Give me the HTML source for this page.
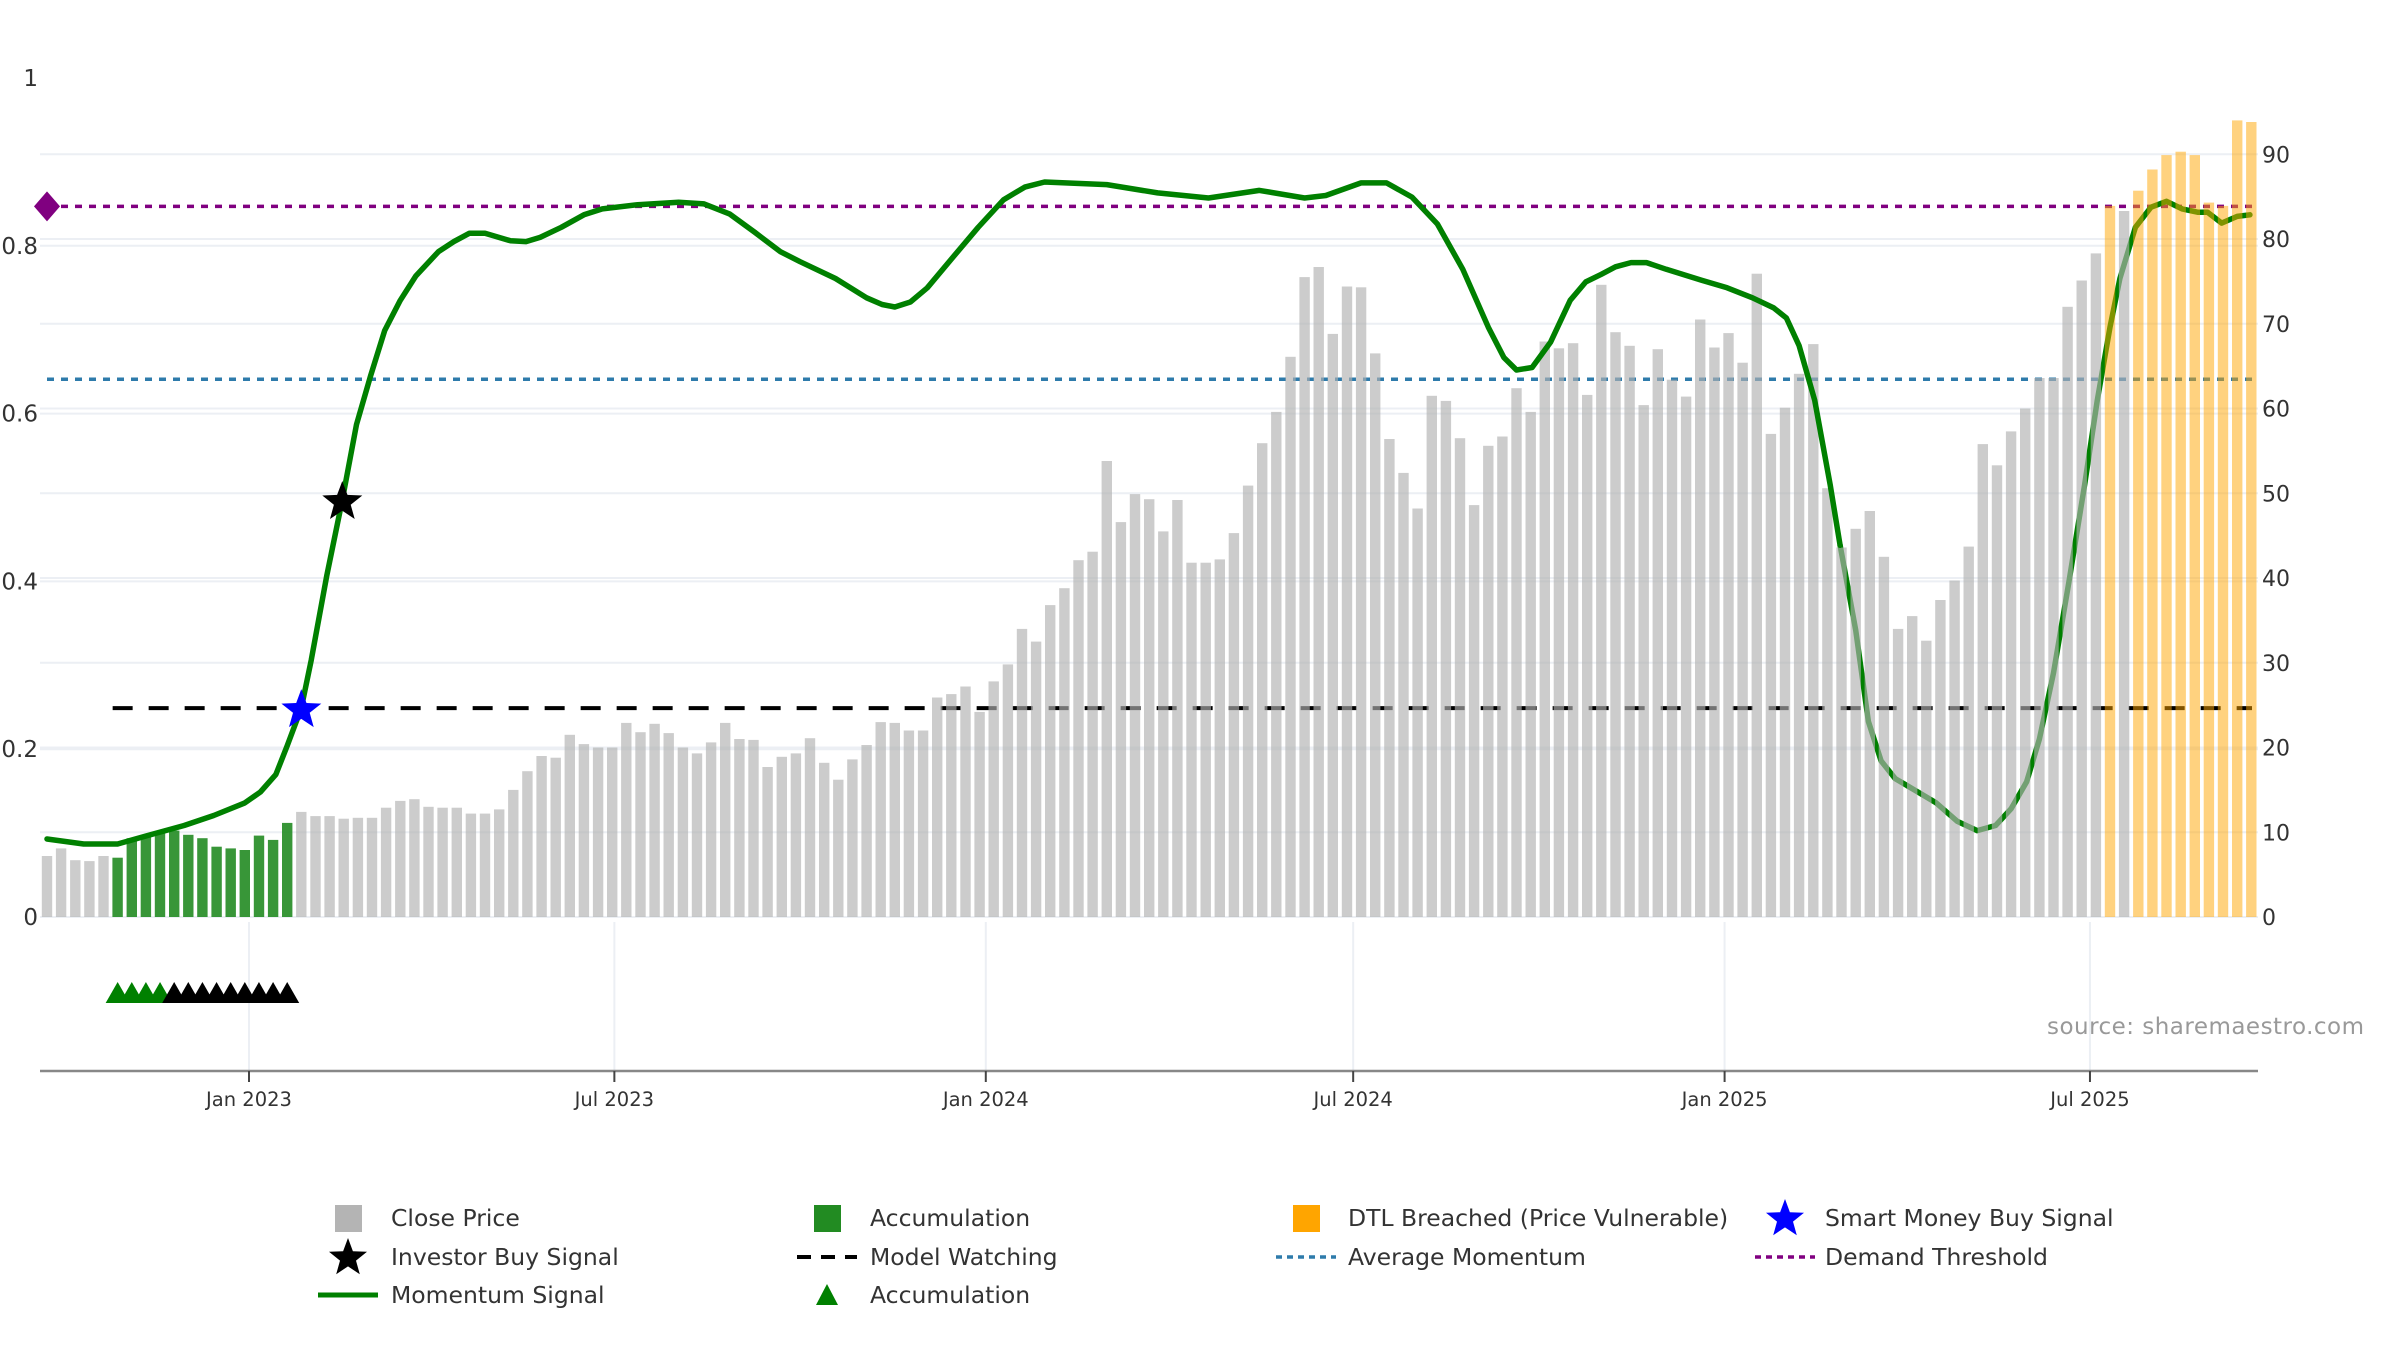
<!DOCTYPE html>
<html><head><meta charset="utf-8"><style>
html,body{margin:0;padding:0;background:#fff;}
svg{display:block;font-family:"DejaVu Sans","Liberation Sans",sans-serif;}
</style></head><body>
<svg id="chart" width="2400" height="1350" viewBox="0 0 2400 1350" xmlns="http://www.w3.org/2000/svg">
<g id="grid"></g>
<g id="hlines"></g>
<g id="lineLate"></g>
<g id="bars"></g>
<g id="lineEarly"></g>
<g id="marks"></g>
<g id="axes"></g>
<text x="2047" y="1034" font-size="23" fill="#999" textLength="317">source: sharemaestro.com</text>
<g id="legend"></g>
</svg>
<script>
const closePrice=[7.2,8.1,6.7,6.6,7.2,7.0,9.3,9.5,9.9,10.2,9.7,9.3,8.3,8.1,7.9,9.6,9.1,11.1,12.4,11.9,11.9,11.6,11.7,11.7,12.9,13.7,13.9,13.0,12.9,12.9,12.2,12.2,12.7,15.0,17.2,19.0,18.8,21.5,20.4,20.0,20.0,22.9,21.8,22.8,21.7,20.0,19.3,20.6,22.9,21.0,20.9,17.7,18.9,19.3,21.1,18.2,16.2,18.6,20.3,23.0,22.9,22.0,22.0,25.9,26.3,27.2,24.2,27.8,29.8,34.0,32.5,36.8,38.8,42.1,43.1,53.8,46.6,49.9,49.3,45.5,49.2,41.8,41.8,42.2,45.3,50.9,55.9,59.6,66.1,75.5,76.7,68.8,74.4,74.3,66.5,56.4,52.4,48.2,61.5,60.9,56.5,48.6,55.6,56.7,62.4,59.6,67.9,67.1,67.7,61.6,74.6,69.0,67.4,60.4,67.0,63.4,61.4,70.5,67.2,68.9,65.4,75.9,57.0,60.1,64.1,67.6,50.6,43.6,45.8,47.9,42.5,34.0,35.5,32.6,37.4,39.7,43.7,55.8,53.3,57.3,60.0,63.6,63.6,72.0,75.1,78.3,83.9,83.3,85.7,88.2,89.9,90.3,89.9,84.3,83.9,94.0,93.8];
const accumulationIdx=[5,6,7,8,9,10,11,12,13,14,15,16,17];
const dtlBreachedIdx=[146,148,149,150,151,152,153,154,155,156];
const momIdx=[0,2.6,5.0,7.1,9.7,11.8,14.0,15.1,16.2,17.0,18.0,18.7,19.8,20.9,21.9,22.9,23.9,25.0,26.1,27.7,28.8,29.9,31.0,32.8,33.9,34.9,36.4,38.0,39.3,41.8,44.7,46.5,48.3,50.1,51.9,53.3,55.8,58.0,59.1,60.0,61.1,62.3,64.1,65.9,67.7,69.2,70.6,75.0,78.6,82.2,85.8,89.0,90.5,93.0,94.8,96.6,98.4,100.2,102.0,103.1,104.0,105.1,106.4,107.8,108.9,110.0,111.0,112.1,113.2,114.6,117.1,118.9,120.7,122.2,123.1,124.0,125.1,126.2,126.9,128.0,128.9,129.8,130.8,132.3,133.7,135.2,136.6,137.9,139.0,140.1,141.0,142.0,143.1,144.2,145.1,146.0,146.7,147.8,148.9,150.0,151.1,152.2,152.9,153.9,155.0,155.9];
const momVal=[0.093,0.087,0.087,0.097,0.109,0.121,0.136,0.149,0.170,0.204,0.249,0.306,0.407,0.497,0.587,0.645,0.699,0.735,0.764,0.793,0.805,0.815,0.815,0.806,0.805,0.810,0.822,0.837,0.844,0.849,0.852,0.850,0.838,0.816,0.793,0.781,0.761,0.738,0.730,0.727,0.733,0.750,0.786,0.822,0.855,0.870,0.876,0.873,0.863,0.857,0.866,0.857,0.860,0.875,0.875,0.858,0.826,0.772,0.703,0.667,0.652,0.655,0.685,0.735,0.757,0.766,0.775,0.780,0.780,0.772,0.759,0.750,0.738,0.726,0.714,0.681,0.616,0.515,0.443,0.342,0.233,0.186,0.165,0.150,0.136,0.114,0.103,0.109,0.129,0.161,0.212,0.291,0.400,0.515,0.616,0.703,0.761,0.822,0.846,0.853,0.844,0.840,0.840,0.827,0.835,0.837];
const accTriIdx=[5,6,7,8];
const watchTriIdx=[9,10,11,12,13,14,15,16,17];
const smartMoneyIdx=[18];
const smartMoneyVal=[0.249];
const investorIdx=[20.9];
const investorVal=[0.497];
const demandThreshold=[0.847];
const avgMomentum=[0.641];
const modelWatching=[0.249];
const leftTicks=[0,0.2,0.4,0.6,0.8,1];
const leftTickLabels=["0","0.2","0.4","0.6","0.8","1"];
const rightTicks=[0,10,20,30,40,50,60,70,80,90];
const xTickDays=[0,181,365,547,731,912];
const xTickLabels=["Jan 2023","Jul 2023","Jan 2024","Jul 2024","Jan 2025","Jul 2025"];

const NS="http://www.w3.org/2000/svg";
const X0=40,X1=2258;
function xDay(d){return 249+d*2.0186;}
function xIdx(i){return xDay(-100.07+7*i);}
function yL(v){return 917-839*v;}
function yR(p){return 917-8.475*p;}
function mk(tag,parent,attrs){const e=document.createElementNS(NS,tag);for(const k in attrs)e.setAttribute(k,attrs[k]);parent.appendChild(e);return e;}
function starPts(cx,cy,R){const r=R*0.42;let p=[];for(let k=0;k<10;k++){const a=-Math.PI/2+k*Math.PI/5;const rr=k%2?r:R;p.push((cx+rr*Math.cos(a)).toFixed(1)+","+(cy+rr*Math.sin(a)).toFixed(1));}return p.join(" ");}

const grid=document.getElementById('grid');
leftTicks.forEach(v=>{if(v>=1)return;const l=mk('line',grid,{x1:X0,x2:X1,y1:yL(v),y2:yL(v),stroke:'#eceff4','stroke-width':2});

});
rightTicks.forEach(v=>{const l=mk('line',grid,{x1:X0,x2:X1,y1:yR(v),y2:yR(v),stroke:'#eceff4','stroke-width':2});

});
xTickDays.forEach(d=>{const l=mk('line',grid,{x1:xDay(d),x2:xDay(d),y1:922,y2:1070,stroke:'#eceff4','stroke-width':2});

});

const hl=document.getElementById('hlines');
const mw=mk('line',hl,{x1:xIdx(5)-5,x2:X1-6,y1:yL(modelWatching[0]),y2:yL(modelWatching[0]),stroke:'#000','stroke-width':4,'stroke-dasharray':'20 16'});


const am=mk('line',hl,{x1:X0+7,x2:X1-6,y1:yL(avgMomentum[0]),y2:yL(avgMomentum[0]),stroke:'#2e7bab','stroke-width':3.5,'stroke-dasharray':'7 7'});


const dt=mk('line',hl,{x1:X0+7,x2:X1-6,y1:yL(demandThreshold[0]),y2:yL(demandThreshold[0]),stroke:'#800080','stroke-width':3.5,'stroke-dasharray':'7 7'});



function momPath(filterFn){let p=[];for(let k=0;k<momIdx.length;k++){if(filterFn(momIdx[k]))p.push(xIdx(momIdx[k]).toFixed(1)+","+yL(momVal[k]).toFixed(1));}return p.join(" ");}
const late=mk('polyline',document.getElementById('lineLate'),{points:momPath(i=>i>=126.9),fill:'none',stroke:'#008000','stroke-width':5.5,'stroke-linejoin':'round','stroke-linecap':'round'});



const bars=document.getElementById('bars');
closePrice.forEach((p,i)=>{let fill='#b0b0b0',op=0.65,name='close-price-bar';
if(accumulationIdx.includes(i)){fill='#228b22';op=0.9;name='accumulation-bar';}
if(dtlBreachedIdx.includes(i)){fill='#ffa500';op=0.5;name='dtl-breached-bar';}
const r=mk('rect',bars,{x:(xIdx(i)-5.2).toFixed(1),y:yR(p).toFixed(1),width:10.4,height:(yR(0)-yR(p)).toFixed(1),fill:fill,'fill-opacity':op});

});

const early=mk('polyline',document.getElementById('lineEarly'),{points:momPath(i=>i<=126.9),fill:'none',stroke:'#008000','stroke-width':5.5,'stroke-linejoin':'round','stroke-linecap':'round'});



const marks=document.getElementById('marks');
const dy=yL(demandThreshold[0]);
const dia=mk('polygon',marks,{points:`${X0+7},${dy-15} ${X0+20},${dy} ${X0+7},${dy+15} ${X0-6},${dy}`,fill:'#800080'});


smartMoneyIdx.forEach((i,k)=>{const s=mk('polygon',marks,{points:starPts(xIdx(i),yL(smartMoneyVal[k])+2,21),fill:'#0000ff'});

});
investorIdx.forEach((i,k)=>{const s=mk('polygon',marks,{points:starPts(xIdx(i),yL(investorVal[k])+2,21),fill:'#000'});

});
function tri(i,color,name){const cx=xIdx(i);const t=mk('polygon',marks,{points:`${cx-12},1003 ${cx+12},1003 ${cx},982`,fill:color});

}
accTriIdx.forEach(i=>tri(i,'#008000','accumulation-triangle'));
watchTriIdx.forEach(i=>tri(i,'#000','watch-triangle'));

const axes=document.getElementById('axes');
const ax=mk('line',axes,{x1:X0,x2:X1,y1:1071,y2:1071,stroke:'#888','stroke-width':2.5});


xTickDays.forEach((d,k)=>{const t=mk('line',axes,{x1:xDay(d),x2:xDay(d),y1:1071,y2:1082,stroke:'#444','stroke-width':2});


const tx=mk('text',axes,{x:xDay(d),y:1106,'font-size':19.5,fill:'#333','text-anchor':'middle'});tx.textContent=xTickLabels[k];

});
leftTicks.forEach((v,k)=>{const tx=mk('text',axes,{x:38,y:yL(v)+8,'font-size':23,fill:'#333','text-anchor':'end'});tx.textContent=leftTickLabels[k];

});
rightTicks.forEach(v=>{const tx=mk('text',axes,{x:2262,y:yR(v)+8,'font-size':22,fill:'#333'});tx.textContent=String(v);

});

const lg=document.getElementById('legend');
const rowY=[1218,1257,1295];
const colS=[348,827,1306,1785];
const colT=[391,870,1348,1825];
const items=[
 [0,0,'Close Price','sq','#b4b4b4'],[1,0,'Accumulation','sq','#228b22'],[2,0,'DTL Breached (Price Vulnerable)','sq','#ffa500'],[3,0,'Smart Money Buy Signal','star','#0000ff'],
 [0,1,'Investor Buy Signal','star','#000'],[1,1,'Model Watching','dash','#000'],[2,1,'Average Momentum','dot','#2e7bab'],[3,1,'Demand Threshold','dot','#800080'],
 [0,2,'Momentum Signal','line','#008000'],[1,2,'Accumulation','tri','#008000']];
items.forEach(it=>{const [c,r,label,type,color]=it;const cx=colS[c],cy=rowY[r];
const g=mk('g',lg,{});


if(type==='sq')mk('rect',g,{x:cx-13,y:cy-13,width:27,height:27,fill:color});
if(type==='star')mk('polygon',g,{points:starPts(cx,cy+1,20),fill:color});
if(type==='dash')mk('line',g,{x1:cx-30,x2:cx+30,y1:cy,y2:cy,stroke:color,'stroke-width':4,'stroke-dasharray':'14 10'});
if(type==='dot')mk('line',g,{x1:cx-30,x2:cx+30,y1:cy,y2:cy,stroke:color,'stroke-width':3.5,'stroke-dasharray':'6 5'});
if(type==='line')mk('line',g,{x1:cx-30,x2:cx+30,y1:cy,y2:cy,stroke:color,'stroke-width':5});
if(type==='tri')mk('polygon',g,{points:`${cx-11},${cy+10} ${cx+11},${cy+10} ${cx},${cy-11}`,fill:color});
const t=mk('text',g,{x:colT[c],y:cy+8,'font-size':23.5,fill:'#333'});t.textContent=label;});
</script>
</body></html>
